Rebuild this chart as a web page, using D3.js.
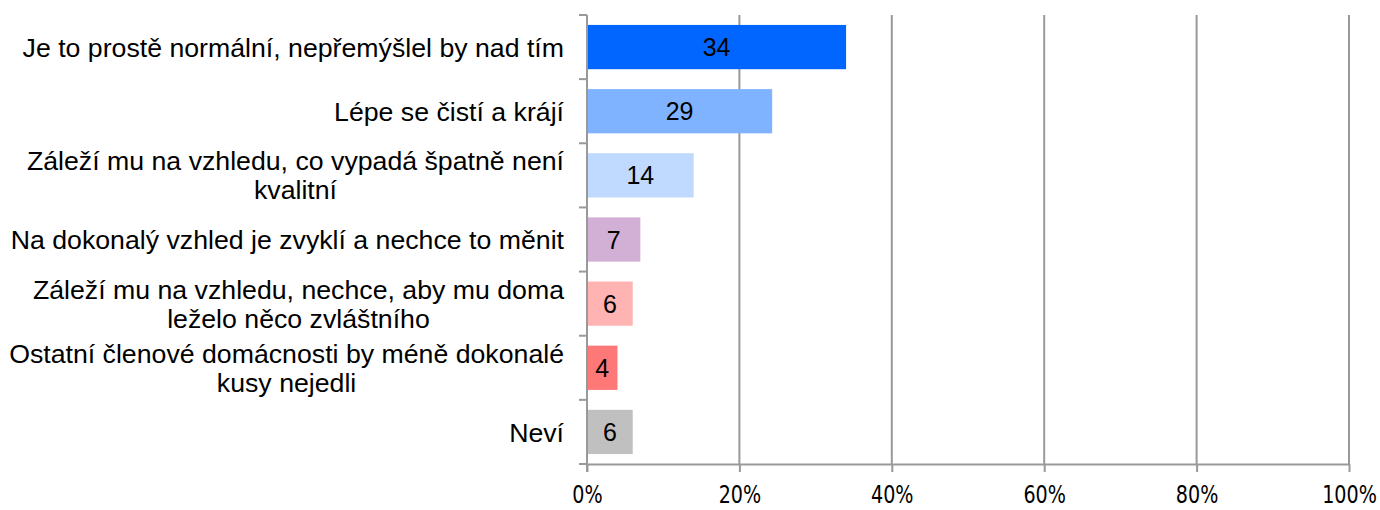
<!DOCTYPE html>
<html>
<head>
<meta charset="utf-8">
<script src="https://cdn.jsdelivr.net/npm/d3@7"></script>
<style>
  body { margin: 0; background: #fff; }
  svg { display: block; }
</style>
</head>
<body>
<div id="chart"></div>
<script>
// categories (line breaks as in the original chart)
const categories = [
  "Je to prostě normální, nepřemýšlel by nad tím",
  "Lépe se čistí a krájí",
  "Záleží mu na vzhledu, co vypadá špatně není\nkvalitní",
  "Na dokonalý vzhled je zvyklí a nechce to měnit",
  "Záleží mu na vzhledu, nechce, aby mu doma\nleželo něco zvláštního",
  "Ostatní členové domácnosti by méně dokonalé\nkusy nejedli",
  "Neví"
];
// bar lengths as drawn (percent)
const shares = [34, 24.3, 14, 7, 6, 4, 6];
// labels printed inside the bars
const dataLabels = ["34", "29", "14", "7", "6", "4", "6"];
const barColors = ["#0066ff", "#80b3ff", "#c0daff", "#d2b0d5", "#ffb3b3", "#ff7878", "#c0c0c0"];
const xTicks = [0, 20, 40, 60, 80, 100];

const W = 1380, H = 510;
const margin = { top: 15, right: 31, bottom: 46, left: 587 };

const svg = d3.select("#chart").append("svg")
  .attr("width", W)
  .attr("height", H);

const x = d3.scaleLinear().domain([0, 100]).range([margin.left, W - margin.right]);
const y = d3.scaleBand().domain(categories).range([margin.top, H - margin.bottom]).paddingInner(0.31).paddingOuter(0.155);
const step = y.step();

// vertical gridlines
svg.append("g")
  .selectAll("line")
  .data(xTicks.slice(1))
  .join("line")
  .attr("x1", d => x(d)).attr("x2", d => x(d))
  .attr("y1", margin.top).attr("y2", H - margin.bottom)
  .attr("stroke", "#999").attr("stroke-width", 2);

// bars
svg.append("g")
  .selectAll("rect")
  .data(categories)
  .join("rect")
  .attr("x", x(0))
  .attr("y", d => y(d))
  .attr("width", (d, i) => x(shares[i]) - x(0))
  .attr("height", y.bandwidth())
  .attr("fill", (d, i) => barColors[i]);

// value labels
svg.append("g")
  .selectAll("text")
  .data(categories)
  .join("text")
  .attr("x", (d, i) => (x(0) + x(shares[i])) / 2)
  .attr("y", d => y(d) + y.bandwidth() / 2)
  .attr("dy", "0.36em")
  .attr("text-anchor", "middle")
  .style("font", "25px 'Liberation Sans', Arial, sans-serif")
  .attr("fill", "#000")
  .text((d, i) => dataLabels[i]);

// x axis
const xAxis = svg.append("g")
  .attr("transform", `translate(0,${H - margin.bottom})`)
  .call(d3.axisBottom(x).tickValues(xTicks).tickFormat(d => d + "%").tickSize(8).tickSizeOuter(0));
xAxis.select(".domain").attr("stroke", "#999").attr("stroke-width", 2);
xAxis.selectAll(".tick line").attr("stroke", "#999").attr("stroke-width", 2);
xAxis.selectAll(".tick text")
  .attr("y", 39)
  .attr("dy", 0)
  .attr("fill", "#000")
  .attr("transform", "scale(0.85,1)")
  .style("font", "25px 'DejaVu Sans Condensed', sans-serif");

// y axis (ticks at category boundaries)
const yAxis = svg.append("g");
yAxis.append("line")
  .attr("x1", x(0)).attr("x2", x(0))
  .attr("y1", margin.top).attr("y2", H - margin.bottom + 8)
  .attr("stroke", "#999").attr("stroke-width", 2);
yAxis.selectAll(".ytick")
  .data(d3.range(categories.length + 1))
  .join("line")
  .attr("class", "ytick")
  .attr("x1", x(0) - 8).attr("x2", x(0))
  .attr("y1", i => margin.top + i * step).attr("y2", i => margin.top + i * step)
  .attr("stroke", "#999").attr("stroke-width", 2);

// category labels: block right-aligned, lines centred within block
const labelRight = 564;
const lineH = 29;
const catG = svg.append("g")
  .style("font", "26.7px 'Liberation Sans', Arial, sans-serif")
  .attr("fill", "#000");

categories.forEach(c => {
  const lines = c.split("\n");
  const cy = y(c) + y.bandwidth() / 2;
  const t = catG.append("text").attr("text-anchor", "middle");
  lines.forEach((ln, j) => {
    t.append("tspan")
      .attr("y", cy + (j - (lines.length - 1) / 2) * lineH)
      .attr("dy", "0.36em")
      .text(ln);
  });
  const w = d3.max(t.selectAll("tspan").nodes(), n => n.getComputedTextLength());
  t.selectAll("tspan").attr("x", labelRight - w / 2);
});
</script>
</body>
</html>
